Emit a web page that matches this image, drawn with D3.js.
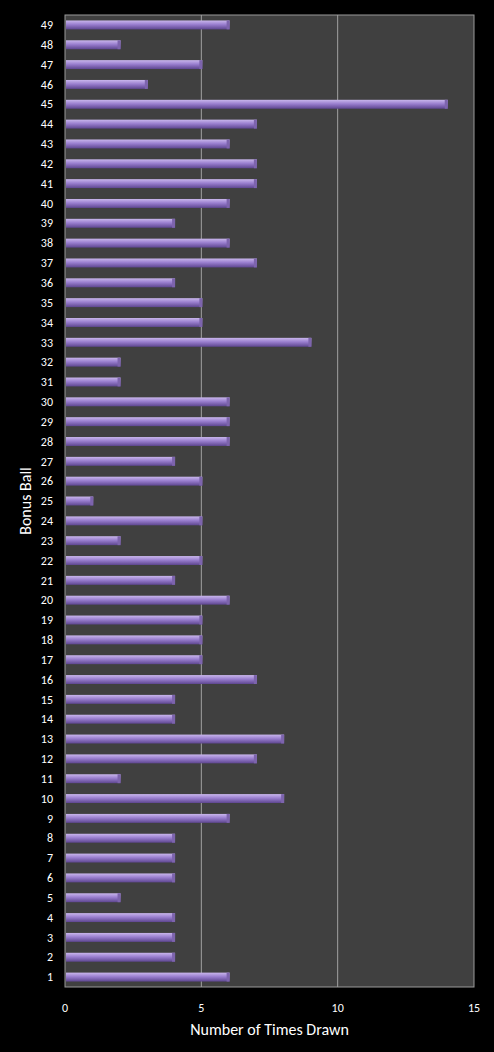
<!DOCTYPE html>
<html><head><meta charset="utf-8">
<script src="https://cdn.jsdelivr.net/npm/d3@7"></script>
<style>body{margin:0;background:#000;}text{font-family:Calibri,Carlito,"Open Sans",sans-serif;}</style>
</head><body>
<script>
// bonus ball numbers and how many times each was drawn
var balls = d3.range(1, 50);
var counts = [6,4,4,4,2,4,4,4,6,8,2,7,8,4,4,7,5,5,5,6,4,5,2,5,1,5,4,6,6,6,2,2,9,5,5,4,7,6,4,6,7,7,6,7,14,3,5,2,6];
var xTicks = [0, 5, 10, 15];

var width = 494, height = 1052;
var margin = {top: 15, right: 20, bottom: 65, left: 65};

var svg = d3.select("body").append("svg")
    .attr("width", width).attr("height", height);

var x = d3.scaleLinear().domain([0, 15]).range([margin.left, width - margin.right]);
var y = d3.scaleBand().domain(balls.slice().reverse()).range([margin.top, height - margin.bottom]).paddingInner(0.55).paddingOuter(0.275);

//bar gradient
var defs = svg.append("defs");
var grad = defs.append("linearGradient").attr("id", "bar").attr("x1", 0).attr("x2", 0).attr("y1", 0).attr("y2", 1);
grad.append("stop").attr("offset", "0%").attr("stop-color", "#c9b6ec");
grad.append("stop").attr("offset", "45%").attr("stop-color", "#9a7fcf");
grad.append("stop").attr("offset", "100%").attr("stop-color", "#5e4690");

//plot area
svg.append("rect")
    .attr("x", x(0)).attr("y", margin.top)
    .attr("width", x(15) - x(0)).attr("height", height - margin.bottom - margin.top)
    .attr("fill", "#404040").attr("stroke", "#9a9a9a");

//gridlines
svg.selectAll(".grid").data([5, 10]).join("line")
    .attr("x1", d => x(d)).attr("x2", d => x(d))
    .attr("y1", margin.top).attr("y2", height - margin.bottom)
    .attr("stroke", "#a0a0a0").attr("stroke-width", 1);

//bars
svg.selectAll(".bar").data(balls).join("rect")
    .attr("x", x(0) + 1)
    .attr("y", d => y(d))
    .attr("width", (d, i) => x(counts[i]) - x(0))
    .attr("height", y.bandwidth())
    .attr("fill", "url(#bar)");

//bar end caps
svg.selectAll(".cap").data(balls).join("rect")
    .attr("x", (d, i) => x(counts[i]) - 2)
    .attr("y", d => y(d))
    .attr("width", 3)
    .attr("height", y.bandwidth())
    .attr("fill", "#7d64ad");

//y axis labels
svg.selectAll(".ylab").data(balls).join("text")
    .attr("x", x(0) - 12)
    .attr("y", d => y(d) + y.bandwidth() / 2)
    .attr("dy", "0.35em")
    .attr("text-anchor", "end")
    .attr("fill", "#fff").attr("font-size", 12)
    .text(d => d);

//x axis labels
svg.selectAll(".xlab").data(xTicks).join("text")
    .attr("x", d => x(d))
    .attr("y", height - margin.bottom + 25)
    .attr("text-anchor", "middle")
    .attr("fill", "#fff").attr("font-size", 12)
    .text(d => d);

svg.append("text")
    .attr("x", (x(0) + x(15)) / 2).attr("y", height - 17)
    .attr("text-anchor", "middle")
    .attr("fill", "#fff").attr("font-size", 16)
    .text("Number of Times Drawn");

svg.append("text")
    .attr("transform", "translate(31," + ((margin.top + height - margin.bottom) / 2) + ") rotate(-90)")
    .attr("text-anchor", "middle")
    .attr("fill", "#fff").attr("font-size", 16)
    .text("Bonus Ball");
</script>
</body></html>
